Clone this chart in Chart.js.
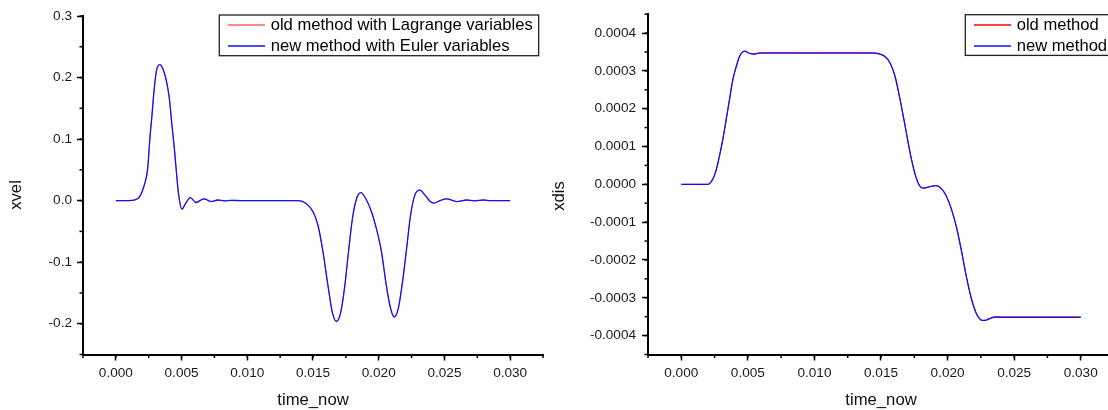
<!DOCTYPE html>
<html>
<head>
<meta charset="utf-8">
<script src="https://cdn.jsdelivr.net/npm/chart.js@4.4.1/dist/chart.umd.min.js"></script>
<style>
  html, body { margin: 0; padding: 0; background: #fff; overflow: hidden; }
  #wrap { position: relative; width: 1108px; height: 410px; overflow: hidden; }
  #velChart { position: absolute; left: 0; top: 0; }
  #disChart { position: absolute; left: 540px; top: 0; }
</style>
</head>
<body>
<div id="wrap">
  <canvas id="velChart" width="560" height="410"></canvas>
  <canvas id="disChart" width="600" height="410"></canvas>
</div>
<script>
// ---- data ----
const timeTicks = [0, 0.005, 0.010, 0.015, 0.020, 0.025, 0.030];
const velTicks = [-0.2, -0.1, 0.0, 0.1, 0.2, 0.3];
const disTicks = [-0.0004, -0.0003, -0.0002, -0.0001, 0, 0.0001, 0.0002, 0.0003, 0.0004];

const velTime = [0, 0.0010, 0.00165, 0.00216, 0.00242, 0.00259, 0.00275, 0.00292, 0.00310, 0.00333,
  0.00356, 0.00386, 0.00407, 0.00427, 0.00445, 0.00463, 0.00478, 0.00503, 0.00529, 0.00567,
  0.00610, 0.00670, 0.00725, 0.00775, 0.00826, 0.00877, 0.0095, 0.0110, 0.01386, 0.0145,
  0.0150, 0.01538, 0.01576, 0.01614, 0.01647, 0.01678, 0.01711, 0.01742, 0.01770, 0.01800,
  0.01831, 0.01864, 0.01902, 0.01945, 0.01983, 0.02021, 0.02054, 0.02085, 0.02118, 0.02148,
  0.02181, 0.02212, 0.02242, 0.02275, 0.02314, 0.02352, 0.02390, 0.02420, 0.02466, 0.02517,
  0.02593, 0.02670, 0.02730, 0.02797, 0.0285, 0.0300];
const velOld = [0, 0, 0.003, 0.025, 0.052, 0.102, 0.140, 0.183, 0.212, 0.221,
  0.215, 0.193, 0.166, 0.122, 0.085, 0.041, 0.009, -0.014, -0.005, 0.005,
  -0.003, 0.003, -0.0015, 0.001, -0.0005, 0.0005, 0, 0, 0, -0.005,
  -0.018, -0.041, -0.084, -0.139, -0.182, -0.197, -0.182, -0.139, -0.084, -0.030,
  0.003, 0.013, 0.003, -0.018, -0.046, -0.084, -0.133, -0.171, -0.190, -0.177,
  -0.133, -0.079, -0.025, 0.009, 0.017, 0.009, -0.001, -0.004, 0, 0.003,
  -0.0015, 0.001, -0.0005, 0.001, 0, 0];
const velNew = [0, 0, 0.003, 0.025, 0.052, 0.101, 0.139, 0.182, 0.212, 0.221,
  0.215, 0.193, 0.166, 0.122, 0.085, 0.041, 0.009, -0.014, -0.005, 0.005,
  -0.003, 0.003, -0.0015, 0.001, -0.0005, 0.0005, 0, 0, 0, -0.005,
  -0.018, -0.040, -0.083, -0.138, -0.181, -0.196, -0.181, -0.138, -0.083, -0.029,
  0.003, 0.013, 0.003, -0.018, -0.046, -0.083, -0.132, -0.170, -0.189, -0.176,
  -0.132, -0.078, -0.024, 0.009, 0.017, 0.009, -0.001, -0.004, 0, 0.003,
  -0.0015, 0.001, -0.0005, 0.001, 0, 0];

const disTime = [0, 0.00200, 0.00226, 0.00258, 0.00288, 0.00313, 0.00338, 0.00363, 0.00388, 0.00414,
  0.00439, 0.00476, 0.00514, 0.00544, 0.00589, 0.0100, 0.01441, 0.01491, 0.01529, 0.01566,
  0.01604, 0.01642, 0.01680, 0.01717, 0.01754, 0.01787, 0.01817, 0.01867, 0.01912, 0.01955,
  0.01992, 0.02030, 0.02068, 0.02105, 0.02143, 0.02180, 0.02218, 0.02248, 0.02273, 0.02313,
  0.02356, 0.02406, 0.0270, 0.0300];
const disOld = [0, 0, 0.000007, 0.000033, 0.000077, 0.000121, 0.000173, 0.000226, 0.000278, 0.000313,
  0.000339, 0.000352, 0.000346, 0.000345, 0.000348, 0.000348, 0.000348, 0.000345, 0.000339, 0.000323,
  0.000288, 0.000227, 0.000157, 0.000087, 0.000030, -0.000002, -0.000010, -0.000006, -0.0000035, -0.000012,
  -0.000032, -0.000067, -0.000115, -0.000177, -0.000247, -0.000304, -0.000343, -0.000358, -0.000360, -0.000355,
  -0.000350, -0.0003505, -0.0003505, -0.0003505];
const disNew = [0, 0, 0.000007, 0.000033, 0.000077, 0.000121, 0.000173, 0.000226, 0.000278, 0.000313,
  0.000339, 0.000352, 0.000346, 0.000344, 0.000347, 0.000347, 0.000347, 0.000344, 0.000338, 0.000322,
  0.000287, 0.000226, 0.000156, 0.000086, 0.000029, -0.000002, -0.000010, -0.000006, -0.0000035, -0.000012,
  -0.000032, -0.000067, -0.000115, -0.000177, -0.000247, -0.000304, -0.000343, -0.000358, -0.000360, -0.000356,
  -0.000351, -0.000352, -0.000352, -0.000352];

const FONT = "'Liberation Sans', Arial, sans-serif";

function pts(xs, ys) {
  return xs.map((x, i) => ({ x: x, y: ys[i] }));
}

function fixed(n) {
  return v => (Math.abs(v) < 1e-12 ? 0 : v).toFixed(n);
}

// minor ticks, drawn outward from both axes
const minorTicks = {
  id: 'minorTicks',
  afterDraw(chart, args, opts) {
    const ctx = chart.ctx;
    const xs = chart.scales.x, ys = chart.scales.y;
    ctx.save();
    ctx.strokeStyle = '#000';
    ctx.lineWidth = 1.5;
    for (let i = 0; ; i++) {
      const v = xs.min + i * opts.xStep;
      if (v > xs.max + opts.xStep / 100) break;
      const px = xs.getPixelForValue(v);
      ctx.beginPath(); ctx.moveTo(px, xs.top); ctx.lineTo(px, xs.top + opts.len); ctx.stroke();
    }
    for (let i = 0; ; i++) {
      const v = ys.min + i * opts.yStep;
      if (v > ys.max + opts.yStep / 100) break;
      const py = ys.getPixelForValue(v);
      ctx.beginPath(); ctx.moveTo(ys.right, py); ctx.lineTo(ys.right - opts.len, py); ctx.stroke();
    }
    ctx.restore();
  }
};

// y axis title, a little below the middle as in the original
const yTitle = {
  id: 'yTitle',
  afterDraw(chart, args, opts) {
    const ctx = chart.ctx;
    ctx.save();
    ctx.font = '16.7px ' + FONT;
    ctx.fillStyle = '#111';
    ctx.translate(opts.x, opts.y);
    ctx.rotate(-Math.PI / 2);
    ctx.textAlign = 'center';
    ctx.textBaseline = 'middle';
    ctx.fillText(opts.text, 0, 0);
    ctx.restore();
  }
};

// boxed legend inside the plot, like the original
const boxLegend = {
  id: 'boxLegend',
  afterDraw(chart, args, opts) {
    const ctx = chart.ctx;
    const sets = chart.data.datasets;
    ctx.save();
    ctx.font = '16.6px ' + FONT;
    const textX = opts.left + 51.4;
    const w = Math.max(...sets.map(d => ctx.measureText(d.label).width));
    ctx.strokeStyle = '#222';
    ctx.lineWidth = 1.3;
    ctx.strokeRect(opts.left, opts.top, textX + w + 6 - opts.left, 40.7);
    sets.forEach((d, i) => {
      const y = Math.round(opts.top + 10 + i * 21);
      ctx.strokeStyle = d.borderColor;
      ctx.lineWidth = 1.6;
      ctx.beginPath(); ctx.moveTo(opts.left + 8.7, y); ctx.lineTo(opts.left + 45.7, y); ctx.stroke();
      ctx.fillStyle = '#000';
      ctx.textBaseline = 'middle';
      ctx.fillText(d.label, textX, y);
    });
    ctx.restore();
  }
};

function makeChart(id, cfg) {
  return new Chart(document.getElementById(id), {
    type: 'line',
    data: {
      datasets: [
        { label: cfg.labels[0], data: pts(cfg.time, cfg.old), borderColor: cfg.oldColor, borderWidth: 1, order: 1 },
        { label: cfg.labels[1], data: pts(cfg.time, cfg.neu), borderColor: '#1010ff', borderWidth: 1.3, order: 0 }
      ]
    },
    options: {
      responsive: false,
      animation: false,
      events: [],
      layout: { padding: { top: cfg.top, right: cfg.right, left: 0, bottom: 0 } },
      elements: {
        point: { radius: 0 },
        line: { cubicInterpolationMode: 'monotone', fill: false }
      },
      scales: {
        x: {
          type: 'linear',
          min: -0.0025,
          max: 0.0325,
          afterFit: s => { s.height = 55.5; },
          afterBuildTicks: s => { s.ticks = timeTicks.map(v => ({ value: v })); },
          border: { display: true, color: '#000', width: 2 },
          grid: { drawOnChartArea: false, drawTicks: true, tickLength: 6, tickColor: '#000', tickWidth: 1.5 },
          ticks: { callback: fixed(3), color: '#1a1a1a', padding: 5, maxRotation: 0, font: { family: FONT, size: 13.6 } },
          title: { display: true, text: 'time_now', color: '#111', padding: { top: 0, bottom: 0 }, font: { family: FONT, size: 16.7 } }
        },
        y: {
          type: 'linear',
          min: cfg.ymin,
          max: cfg.ymax,
          afterFit: s => { s.width = cfg.yWidth; },
          afterBuildTicks: s => { s.ticks = cfg.yTicks.map(v => ({ value: v })); },
          border: { display: true, color: '#000', width: 2 },
          grid: { drawOnChartArea: false, drawTicks: true, tickLength: 6, tickColor: '#000', tickWidth: 1.5 },
          ticks: { callback: fixed(cfg.yDigits), color: '#1a1a1a', padding: cfg.yPad, font: { family: FONT, size: 13.6 } },
          title: { display: false }
        }
      },
      plugins: {
        legend: { display: false },
        tooltip: { enabled: false },
        minorTicks: { xStep: 0.0025, yStep: cfg.yMinor, len: 3.5 },
        yTitle: { text: cfg.yTitle, x: cfg.titleX, y: cfg.titleY },
        boxLegend: { left: cfg.legLeft, top: cfg.legTop }
      }
    },
    plugins: [minorTicks, yTitle, boxLegend]
  });
}

makeChart('velChart', {
  labels: ['old method with Lagrange variables', 'new method with Euler variables'],
  oldColor: '#ff6060',
  time: velTime, old: velOld, neu: velNew,
  ymin: -0.25, ymax: 0.3, yTicks: velTicks, yDigits: 1, yMinor: 0.05,
  yTitle: 'xvel', yWidth: 83, yPad: 5, titleX: 16.7, titleY: 195,
  top: 16, right: 17, legLeft: 219.3, legTop: 15
});

makeChart('disChart', {
  labels: ['old method', 'new method'],
  oldColor: '#ff0000',
  time: disTime, old: disOld, neu: disNew,
  ymin: -0.00045, ymax: 0.00045, yTicks: disTicks, yDigits: 4, yMinor: 0.00005,
  yTitle: 'xdis', yWidth: 108, yPad: 6, titleX: 19, titleY: 196,
  top: 11, right: 26, legLeft: 425.3, legTop: 14.7
});
</script>
</body>
</html>
